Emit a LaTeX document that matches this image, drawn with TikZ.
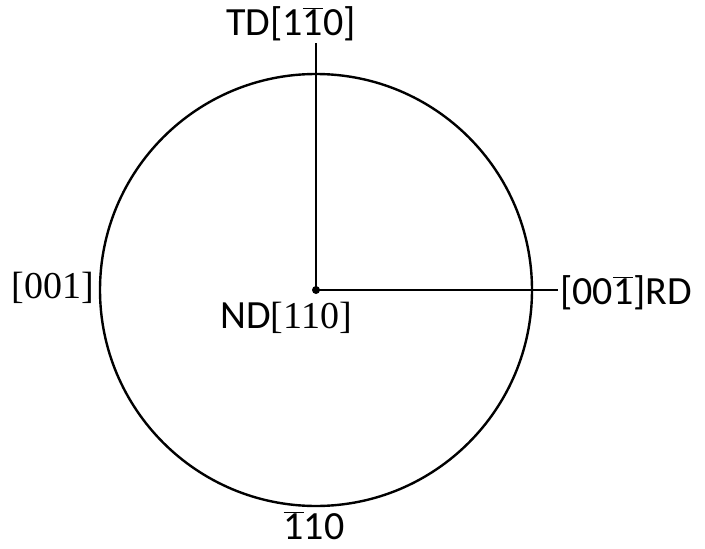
\documentclass[tikz,border=0pt]{standalone}
\usepackage{fontspec}
\setmainfont{Carlito}
\newfontfamily\serifnum{Liberation Serif}
\usetikzlibrary{positioning}
\newcommand{\ob}[1]{\ensuremath{\overline{\mbox{#1}}}}
\tikzset{
  lbl/.style={inner sep=2pt, font=\fontsize{40}{44}\selectfont},
  axisline/.style={line width=2pt},
}

\begin{document}
\begin{tikzpicture}[x=1pt, y=-1pt]
    \useasboundingbox (0,0) rectangle (705,549);
    \coordinate (o) at (316,290);
    \draw[line width=2.4pt] (o) circle (216);
    \fill (o) circle (4);
    \node[lbl] (td) at (291,24) {TD[1\ob{1}0]};
    \node[lbl, anchor=west] (rd) at (558,293) {[00\ob{1}]RD};
    \node[lbl] (nd) at (286,318) {ND{\serifnum\fontsize{38}{42}\selectfont[110]}};
    \node[lbl, font=\serifnum\fontsize{38}{42}\selectfont] (lft) at (53,288) {[001]};
    \node[lbl] (btm) at (314,526) {\ob{1}10};
    \draw[axisline] (o) -- (o |- td.south);
    \draw[axisline] (o) -- (o -| rd.west);
  \end{tikzpicture}
\end{document}
